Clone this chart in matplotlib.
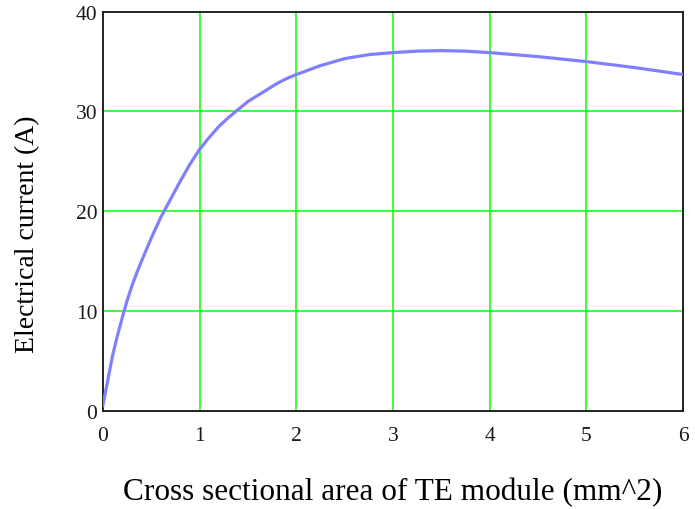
import matplotlib
matplotlib.use("Agg")
import matplotlib.pyplot as plt


# cross sectional area (mm^2) and electrical current (A)
area = [0.0, 0.05, 0.1, 0.15, 0.2, 0.25, 0.3, 0.35, 0.4, 0.5, 0.6, 0.7,
        0.8, 0.9, 1.0, 1.1, 1.2, 1.3, 1.4, 1.5, 1.6, 1.7, 1.8, 1.9, 2.0,
        2.25, 2.5, 2.75, 3.0, 3.25, 3.5, 3.75, 4.0, 4.5, 5.0, 5.5, 6.0]
current = [0.5, 3.0, 5.5, 7.5, 9.3, 11.0, 12.5, 13.8, 15.0, 17.3, 19.4,
           21.2, 23.0, 24.7, 26.2, 27.4, 28.5, 29.4, 30.2, 31.0, 31.6,
           32.2, 32.8, 33.3, 33.7, 34.6, 35.3, 35.7, 35.9, 36.05, 36.1,
           36.05, 35.9, 35.5, 35.0, 34.4, 33.7]

x_ticks = [0, 1, 2, 3, 4, 5, 6]
y_ticks = [0, 10, 20, 30, 40]

plt.rcParams["font.family"] = ["Liberation Serif", "DejaVu Serif"]

fig = plt.figure(figsize=(6.95, 5.1), dpi=100)
ax = fig.add_axes([0.148, 0.193, 0.835, 0.782])

ax.plot(area, current, color="#8080ff", lw=2.3, zorder=3,
        solid_joinstyle="round")

ax.set_xlim(0, 6)
ax.set_ylim(0, 40)
ax.set_xticks(x_ticks)
ax.set_yticks(y_ticks)
ax.grid(True, color="#00ff00", lw=1.1, zorder=1)
ax.tick_params(length=0, labelsize=15.5, colors="#1a1a1a")
ax.tick_params(axis="x", pad=11)
ax.tick_params(axis="y", pad=4)
for s in ax.spines.values():
    s.set_linewidth(1.4)
    s.set_color("#222222")

fig.text(0.040, 0.540, "Electrical current (A)", rotation=90,
         ha="center", va="center", fontsize=20)
fig.text(0.565, 0.035, "Cross sectional area of TE module (mm^2)",
         ha="center", va="center", fontsize=22.5)

fig.savefig("out.png", dpi=100)
